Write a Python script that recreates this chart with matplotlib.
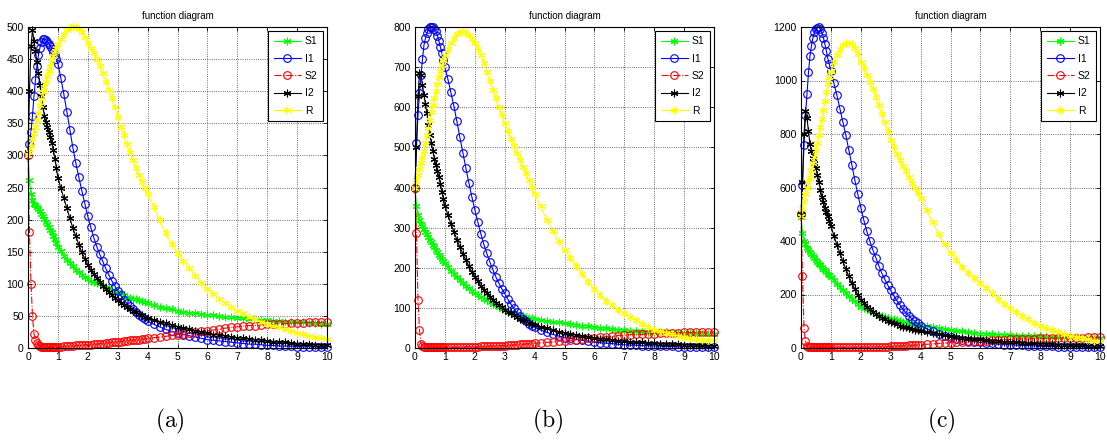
import matplotlib.pyplot as plt

plt.rcParams["font.family"] = ["Liberation Sans Narrow", "Liberation Sans", "DejaVu Sans"]
plt.rcParams["mathtext.fontset"] = "cm"

# time points shared by every curve (denser where the curves move fast)
T = [0, 0.05, 0.1, 0.15, 0.2, 0.25, 0.3, 0.35, 0.4, 0.45, 0.5, 0.55, 0.6,
     0.65, 0.7, 0.75, 0.8, 0.85, 0.9, 0.95, 1.0,
     1.1, 1.2, 1.3, 1.4, 1.5, 1.6, 1.7, 1.8, 1.9, 2.0, 2.1, 2.2, 2.3, 2.4,
     2.5, 2.6, 2.7, 2.8, 2.9, 3.0, 3.1, 3.2, 3.3, 3.4, 3.5, 3.6, 3.7, 3.8,
     3.9, 4.0,
     4.2, 4.4, 4.6, 4.8, 5.0, 5.2, 5.4, 5.6, 5.8, 6.0, 6.2, 6.4, 6.6, 6.8,
     7.0, 7.2, 7.4, 7.6, 7.8, 8.0, 8.2, 8.4, 8.6, 8.8, 9.0, 9.2, 9.4, 9.6,
     9.8, 10.0]

# panel (a)
S1_A = [300, 262, 240, 230, 225, 222, 219, 216, 213, 209, 205, 201, 197, 193, 188, 184, 180, 175, 170, 164, 158,
        151, 144, 137, 132, 127, 122, 118, 114, 110, 107, 105, 103, 101, 99, 97, 95, 93, 91, 89, 87, 85, 82, 80, 78, 77, 76, 75, 73, 72, 70,
        67, 64, 62, 60, 58, 56, 55, 54, 53, 52, 51, 50, 49, 48, 47, 46, 45, 45, 44, 43, 42, 42, 41, 41, 40, 40, 39, 39, 38, 38]
I1_A = [300, 318, 337, 362, 392, 418, 440, 456, 468, 476, 481, 482, 480, 477, 474, 470, 466, 461, 456, 450, 443,
        420, 395, 368, 340, 312, 288, 266, 245, 225, 205, 188, 172, 158, 146, 135, 124, 114, 105, 97, 89, 82, 75, 70, 65, 60, 56, 52, 48, 45, 42,
        37, 33, 29, 26, 23, 21, 19, 17, 15, 13, 12, 11, 10, 9, 8, 7, 6, 6, 5, 4, 4, 3, 3, 3, 2, 2, 2, 2, 1, 1]
S2_A = [300, 180, 100, 50, 22, 13, 8, 5, 3, 2, 2, 2, 2, 2, 2, 2, 2, 2, 2, 2, 2,
        2, 3, 3, 3, 3, 4, 4, 4, 5, 5, 5, 6, 6, 7, 7, 8, 8, 9, 9, 10, 10, 11, 11, 12, 12, 13, 13, 14, 14, 15,
        16, 17, 18, 20, 21, 22, 23, 25, 26, 27, 28, 29, 31, 32, 33, 34, 35, 35, 36, 37, 37, 38, 38, 39, 39, 39, 40, 40, 40, 41]
I2_A = [305, 400, 470, 495, 478, 462, 445, 428, 410, 392, 375, 362, 352, 344, 336, 328, 320, 308, 295, 280, 265,
        249, 233, 218, 202, 187, 174, 161, 149, 139, 130, 122, 115, 109, 103, 97, 92, 87, 82, 78, 74, 70, 67, 64, 61, 58, 56, 53, 51, 49, 47,
        44, 41, 39, 36, 33, 31, 29, 27, 25, 23, 21, 20, 19, 17, 16, 15, 14, 13, 12, 11, 10, 9, 9, 8, 7, 7, 6, 5, 5, 4]
R_A = [300, 305, 315, 325, 335, 345, 355, 366, 378, 388, 398, 407, 415, 424, 432, 440, 448, 455, 462, 468, 474,
       482, 489, 495, 499, 501, 500, 497, 492, 484, 475, 467, 459, 450, 439, 428, 415, 402, 389, 375, 360, 345, 331, 318, 305, 293, 281, 269, 258, 249, 240,
       220, 199, 179, 162, 148, 136, 124, 112, 102, 92, 84, 76, 70, 64, 58, 54, 49, 45, 41, 38, 35, 32, 29, 26, 24, 22, 19, 17, 15, 14]

# panel (b)
S1_B = [400, 355, 331, 320, 310, 303, 297, 290, 283, 276, 269, 263, 257, 251, 245, 239, 233, 228, 222, 216, 211,
        202, 193, 185, 177, 169, 162, 155, 149, 142, 136, 131, 127, 123, 119, 115, 110, 106, 102, 98, 95, 92, 89, 87, 84, 82, 80, 78, 76, 75, 73,
        71, 68, 66, 64, 62, 60, 58, 56, 54, 52, 50, 49, 47, 45, 44, 43, 42, 42, 41, 40, 39, 39, 38, 38, 37, 37, 37, 36, 36, 36]
I1_B = [400, 510, 580, 635, 680, 720, 755, 772, 785, 795, 800, 801, 800, 796, 790, 778, 765, 750, 735, 718, 700,
        670, 637, 603, 565, 525, 487, 449, 412, 377, 345, 314, 285, 259, 236, 215, 196, 178, 162, 148, 136, 122, 110, 99, 89, 80, 73, 67, 61, 56, 52,
        45, 39, 34, 30, 26, 24, 21, 19, 17, 15, 13, 12, 11, 9, 8, 7, 7, 6, 6, 5, 5, 4, 4, 3, 3, 3, 3, 2, 2, 2]
S2_B = [400, 286, 120, 45, 11, 5, 3, 2, 2, 2, 2, 2, 2, 2, 2, 2, 2, 2, 2, 2, 2,
        2, 2, 2, 2, 2, 2, 3, 3, 3, 3, 3, 4, 4, 4, 5, 5, 5, 6, 6, 6, 7, 7, 8, 8, 9, 9, 10, 11, 11, 12,
        13, 14, 15, 17, 18, 19, 21, 22, 24, 25, 27, 28, 29, 31, 32, 33, 34, 34, 35, 36, 37, 37, 38, 38, 39, 39, 39, 40, 40, 40]
I2_B = [400, 500, 627, 685, 680, 655, 630, 607, 585, 557, 530, 510, 490, 472, 455, 440, 425, 408, 390, 372, 355,
        332, 310, 290, 270, 252, 235, 219, 204, 190, 178, 166, 155, 145, 136, 128, 120, 113, 107, 101, 95, 90, 86, 81, 77, 73, 70, 67, 63, 60, 58,
        53, 49, 45, 41, 38, 35, 32, 30, 27, 25, 23, 22, 20, 18, 17, 16, 15, 14, 13, 12, 11, 10, 10, 9, 8, 8, 7, 7, 6, 6]
R_B = [400, 415, 430, 445, 462, 476, 490, 510, 530, 549, 568, 587, 605, 623, 640, 658, 675, 690, 705, 718, 730,
       746, 760, 772, 782, 788, 789, 786, 779, 770, 760, 746, 729, 710, 688, 665, 644, 622, 601, 580, 560, 541, 522, 503, 486, 469, 452, 435, 418, 402, 385,
       353, 320, 292, 266, 244, 224, 204, 184, 165, 146, 132, 118, 106, 95, 86, 77, 69, 61, 53, 46, 42, 38, 34, 30, 27, 25, 23, 21, 20, 19]

# panel (c)
S1_C = [490, 430, 400, 388, 375, 368, 360, 352, 343, 335, 328, 321, 315, 309, 303, 296, 290, 284, 278, 272, 267,
        253, 240, 228, 216, 205, 195, 185, 174, 164, 155, 150, 144, 138, 133, 128, 124, 120, 116, 113, 110, 107, 104, 102, 99, 97, 94, 91, 89, 86, 84,
        81, 78, 74, 71, 67, 64, 62, 59, 56, 54, 52, 51, 49, 48, 47, 46, 45, 45, 44, 43, 42, 42, 41, 41, 40, 40, 39, 39, 38, 38]
I1_C = [500, 610, 760, 870, 950, 1030, 1090, 1130, 1160, 1180, 1192, 1198, 1199, 1192, 1178, 1160, 1135, 1110, 1080, 1060, 1035,
        990, 945, 895, 845, 795, 740, 685, 628, 575, 525, 478, 437, 400, 368, 338, 308, 280, 257, 235, 215, 196, 178, 162, 147, 133, 121, 110, 100, 92, 84,
        72, 62, 54, 46, 40, 35, 31, 28, 24, 21, 19, 17, 15, 13, 12, 11, 10, 9, 8, 7, 6, 6, 5, 5, 4, 4, 4, 3, 3, 3]
S2_C = [500, 270, 75, 25, 8, 4, 2, 2, 2, 2, 2, 2, 2, 2, 2, 2, 2, 2, 2, 2, 2,
        2, 2, 2, 2, 2, 2, 2, 2, 3, 3, 3, 3, 3, 4, 4, 4, 5, 5, 5, 6, 7, 7, 8, 8, 9, 10, 10, 11, 12, 13,
        14, 15, 17, 18, 20, 21, 23, 24, 25, 27, 28, 29, 30, 31, 32, 33, 34, 34, 35, 36, 36, 37, 37, 38, 39, 39, 39, 40, 40, 40]
I2_C = [500, 620, 800, 885, 860, 810, 762, 735, 712, 692, 672, 646, 620, 592, 565, 545, 525, 510, 494, 476, 457,
        420, 386, 355, 324, 295, 268, 243, 220, 199, 180, 167, 155, 145, 136, 127, 120, 113, 107, 101, 96, 92, 88, 84, 80, 77, 74, 71, 68, 66, 64,
        59, 55, 51, 48, 45, 42, 39, 37, 34, 32, 30, 28, 26, 24, 23, 21, 20, 18, 17, 16, 15, 14, 13, 12, 11, 10, 10, 9, 8, 8]
R_C = [495, 520, 548, 575, 600, 620, 640, 665, 690, 715, 740, 768, 795, 825, 855, 890, 925, 958, 990, 1013, 1035,
       1068, 1095, 1118, 1133, 1140, 1141, 1135, 1120, 1098, 1070, 1046, 1022, 996, 969, 940, 908, 875, 843, 810, 778, 752, 727, 704, 682, 660, 639, 618, 598, 579, 560,
       515, 470, 425, 388, 355, 328, 304, 282, 262, 242, 223, 204, 185, 166, 148, 134, 120, 107, 94, 82, 74, 66, 59, 52, 46, 41, 37, 32, 28, 25]

NAMES = ["S1", "I1", "S2", "I2", "R"]
LABELS = ["(a)", "(b)", "(c)"]
YMAX = [500, 800, 1200]
YSTEP = [50, 100, 200]

AST = (6, 2, 0)
STYLES = [
    dict(color=(0, 1, 0), ls="-", marker=AST, ms=5.5),
    dict(color=(0, 0, 1), ls="-", marker="o", mfc="none", ms=5.5),
    dict(color=(1, 0, 0), ls="-.", marker="o", mfc="none", ms=5.5),
    dict(color="black", ls="-", marker=AST, ms=5.5),
    dict(color=(1, 1, 0), ls="-", marker=AST, ms=5.5),
]

panels = [
    [S1_A, I1_A, S2_A, I2_A, R_A],
    [S1_B, I1_B, S2_B, I2_B, R_B],
    [S1_C, I1_C, S2_C, I2_C, R_C],
]

W, H = 1107, 442
fig = plt.figure(figsize=(W / 100, H / 100), dpi=100)

lefts = [28, 415, 801]
label_x = [170, 548, 941]

for k, series in enumerate(panels):
    ax = fig.add_axes([lefts[k] / W, 1 - 348 / H, 299 / W, 321 / H])
    for name, ys, st in zip(NAMES, series, STYLES):
        assert len(ys) == len(T), (LABELS[k], name, len(ys))
        ax.plot(T, ys, label=name, lw=0.8, mew=0.8, clip_on=False, **st)
    ax.set_xlim(0, 10)
    ax.set_ylim(0, YMAX[k])
    ax.set_xticks(range(0, 11))
    ax.set_yticks(range(0, YMAX[k] + 1, YSTEP[k]))
    ax.tick_params(direction="in", top=True, right=True, length=3,
                   width=0.6, labelsize=7.5, pad=3)
    ax.grid(True, linestyle=":", color="0.25", linewidth=0.6)
    for sp in ax.spines.values():
        sp.set_linewidth(0.8)
    ax.set_title("function diagram", fontsize=7, pad=6)
    leg = ax.legend(loc="upper right", fontsize=7.5, numpoints=1,
                    fancybox=False, framealpha=1, edgecolor="black",
                    handlelength=2.6, handletextpad=0.4, labelspacing=0.7,
                    borderpad=0.5, borderaxespad=0.4)
    leg.get_frame().set_linewidth(0.8)
    fig.text(label_x[k] / W, 1 - 421 / H, r"$\mathrm{%s}$" % LABELS[k],
             fontsize=17, ha="center", va="center")

fig.savefig("out.png", dpi=100)
